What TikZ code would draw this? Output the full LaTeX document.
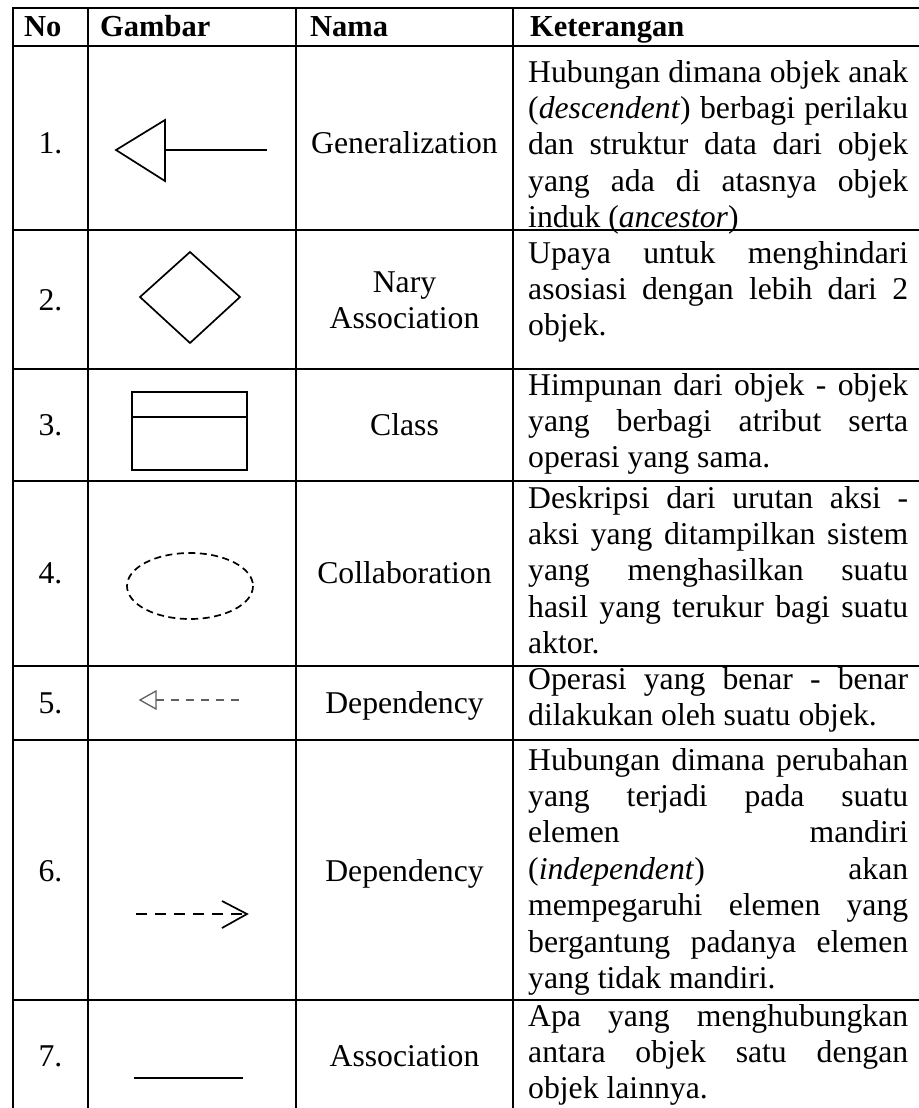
\documentclass[tikz,border=0pt]{standalone}
\usepackage{fontspec}
\setmainfont{Liberation Serif}
\usepackage{tikz}

\begin{document}
\begin{tikzpicture}
  [x=1pt,y=-1pt,
grid/.style={line width=2.6pt,line cap=rect},
symb/.style={line width=1.7pt},
hd/.style={font=\fontsize{30.5}{35}\selectfont\bfseries,anchor=base west,inner sep=0pt},
num/.style={font=\fontsize{31.7}{36.4}\selectfont,anchor=base,inner sep=0pt},
nama/.style={font=\fontsize{31.7}{36.4}\selectfont,align=center,inner sep=0pt},
ket/.style={font=\fontsize{31.7}{36.4}\selectfont,text width=380pt,align=justify,
  anchor=north west,inner sep=0pt}]

\useasboundingbox (0,0) rectangle (918,1108);

% table lines
\foreach \y [count=\i] in {8,46,230,369,481,666,740,1000}{
  \coordinate (L\i) at (13,\y);
  \coordinate (R\i) at (918,\y);
  \draw [grid] (L\i) -- (R\i);
}
\foreach \x [count=\i] in {13,88,296,513}{
  \coordinate (T\i) at (\x,8);
  \coordinate (B\i) at (\x,1108);
  \draw [grid] (T\i) -- (B\i);
}

% header
\node [hd] (hNo) at (24,37) {No};
\node [hd] (hGambar) at (100,37) {Gambar};
\node [hd] (hNama) at (310,37) {Nama};
\node [hd] (hKet) at (530,37) {Keterangan};

% numbers
\node [num] (n1) at (50.5,153) {1.};
\node [num] (n2) at (50.5,310) {2.};
\node [num] (n3) at (50.5,435) {3.};
\node [num] (n4) at (50.5,583) {4.};
\node [num] (n5) at (50.5,713) {5.};
\node [num] (n6) at (50.5,881) {6.};
\node [num] (n7) at (50.5,1066) {7.};

% names
\node [num] (m1) at (404.5,153) {Generalization};
\node [nama] (m2) at (404.5,300) {Nary\\Association};
\node [num] (m3) at (404.5,435) {Class};
\node [num] (m4) at (404.5,583) {Collaboration};
\node [num] (m5) at (404.5,713) {Dependency};
\node [num] (m6) at (404.5,881) {Dependency};
\node [num] (m7) at (404.5,1066) {Association};

% keterangan
\node [ket] (k1) at (528,56.5) {\strut Hubungan dimana objek anak\linebreak
  (\textit{descendent}) berbagi perilaku\linebreak
  dan struktur data dari objek\linebreak
  yang ada di atasnya objek\linebreak
  induk (\textit{ancestor})};
\node [ket] (k2) at (528,237.5) {\strut Upaya untuk menghindari\linebreak
  asosiasi dengan lebih dari 2\linebreak
  objek.};
\node [ket] (k3) at (528,369.5) {\strut Himpunan dari objek - objek\linebreak
  yang berbagi atribut serta\linebreak
  operasi yang sama.};
\node [ket] (k4) at (528,482.5) {\strut Deskripsi dari urutan aksi -\linebreak
  aksi yang ditampilkan sistem\linebreak
  yang menghasilkan suatu\linebreak
  hasil yang terukur bagi suatu\linebreak
  aktor.};
\node [ket] (k5) at (528,663.5) {\strut Operasi yang benar - benar\linebreak
  dilakukan oleh suatu objek.};
\node [ket] (k6) at (528,744.5) {\strut Hubungan dimana perubahan\linebreak
  yang terjadi pada suatu\linebreak
  elemen mandiri\linebreak
  (\textit{independent}) akan\linebreak
  mempegaruhi elemen yang\linebreak
  bergantung padanya elemen\linebreak
  yang tidak mandiri.};
\node [ket] (k7) at (528,1000.5) {\strut Apa yang menghubungkan\linebreak
  antara objek satu dengan\linebreak
  objek lainnya.};

% 1. generalization
\coordinate (G1tip) at (116,150);
\coordinate (G1up) at (165,120);
\coordinate (G1dn) at (165,181);
\coordinate (G1mid) at (165,150);
\coordinate (G1end) at (267,150);
\draw [symb,line join=miter] (G1tip) -- (G1up) -- (G1dn) -- cycle;
\draw [symb] (G1mid) -- (G1end);

% 2. nary association
\coordinate (D2t) at (190,252);
\coordinate (D2r) at (240,297);
\coordinate (D2b) at (190,343);
\coordinate (D2l) at (140,297);
\draw [symb] (D2t) -- (D2r) -- (D2b) -- (D2l) -- cycle;

% 3. class
\coordinate (C3a) at (132,392);
\coordinate (C3b) at (247,470);
\coordinate (C3l) at (132,417);
\coordinate (C3r) at (247,417);
\draw [symb] (C3a) rectangle (C3b);
\draw [symb] (C3l) -- (C3r);

% 4. collaboration
\coordinate (E4) at (190,586);
\draw [symb,dash pattern=on 7pt off 4.5pt] (E4) ellipse [x radius=63,y radius=33];

% 5. dependency (small)
\coordinate (P5tip) at (140,700);
\coordinate (P5up) at (156,691);
\coordinate (P5dn) at (156,709);
\coordinate (P5mid) at (156,700);
\coordinate (P5end) at (239,700);
\draw [gray!75!black,line width=1.3pt] (P5tip) -- (P5up) -- (P5dn) -- cycle;
\draw [gray!75!black,line width=1.3pt,dash pattern=on 8pt off 7pt] (P5mid) -- (P5end);

% 6. dependency
\coordinate (P6a) at (136,914);
\coordinate (P6b) at (247,914);
\coordinate (P6up) at (222,901);
\coordinate (P6dn) at (222,928);
\draw [symb,dash pattern=on 11pt off 8pt] (P6a) -- (P6b);
\draw [symb] (P6up) -- (P6b) -- (P6dn);

% 7. association
\coordinate (A7a) at (134,1078);
\coordinate (A7b) at (243,1078);
\draw [symb] (A7a) -- (A7b);

\end{tikzpicture}
\end{document}
